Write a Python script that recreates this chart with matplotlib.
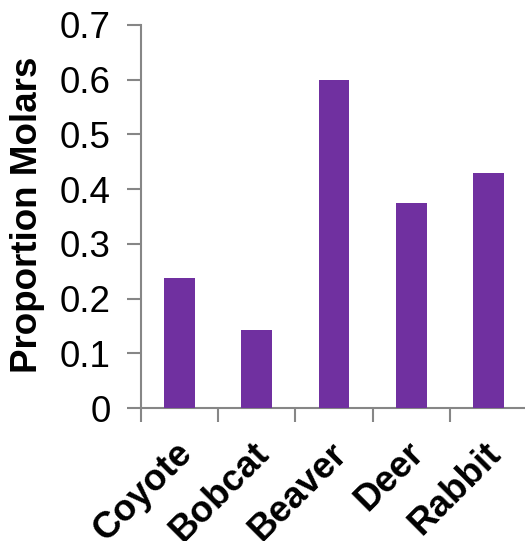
import numpy as np
import matplotlib.pyplot as plt
import matplotlib.transforms as mtransforms

# %% Data

animals = ["Coyote", "Bobcat", "Beaver", "Deer", "Rabbit"]
molars = [0.238, 0.143, 0.600, 0.375, 0.429]

# %% Plot

plt.rcParams["font.family"] = ["Liberation Sans", "DejaVu Sans"]

fig = plt.figure(figsize=(5.25, 5.41), dpi=100)
ax = fig.add_axes([141 / 525, 133 / 541, 386 / 525, 383 / 541])

x = np.arange(len(animals))
ax.bar(x, molars, width=0.4, color="#7030A0", zorder=3)

ax.set_xlim(-0.5, len(animals) - 0.5)
ax.set_ylim(0, 0.7)
ax.set_yticks(np.arange(0, 0.71, 0.1))
ax.set_yticklabels(["0"] + ["%.1f" % v for v in np.arange(0.1, 0.71, 0.1)])

ax.set_xticks(x)
ax.set_xticklabels(animals, rotation=45, ha="right", va="top",
                   rotation_mode="anchor", fontsize=26.5, fontweight="bold")
ax.set_xticks(np.arange(-0.5, len(animals), 1.0), minor=True)
ax.tick_params(axis="x", which="major", length=0, pad=20)
ax.tick_params(axis="x", which="minor", length=10, width=1.5, color="#868686")
ax.tick_params(axis="y", length=10, width=1.5, color="#868686",
               labelsize=26.5, pad=12)

# nudge x labels a bit to the left
shift = mtransforms.ScaledTranslation(-5 / 100, 0, fig.dpi_scale_trans)
for lab in ax.get_xticklabels():
    lab.set_transform(lab.get_transform() + shift)

for s in ["top", "right"]:
    ax.spines[s].set_visible(False)
for s in ["left", "bottom"]:
    ax.spines[s].set_color("#868686")
    ax.spines[s].set_linewidth(1.5)

fig.text(28 / 525, 1 - 215 / 541, "Proportion Molars", rotation=90,
         ha="center", va="center", fontsize=26.5, fontweight="bold")

fig.savefig("out.png", dpi=100)
